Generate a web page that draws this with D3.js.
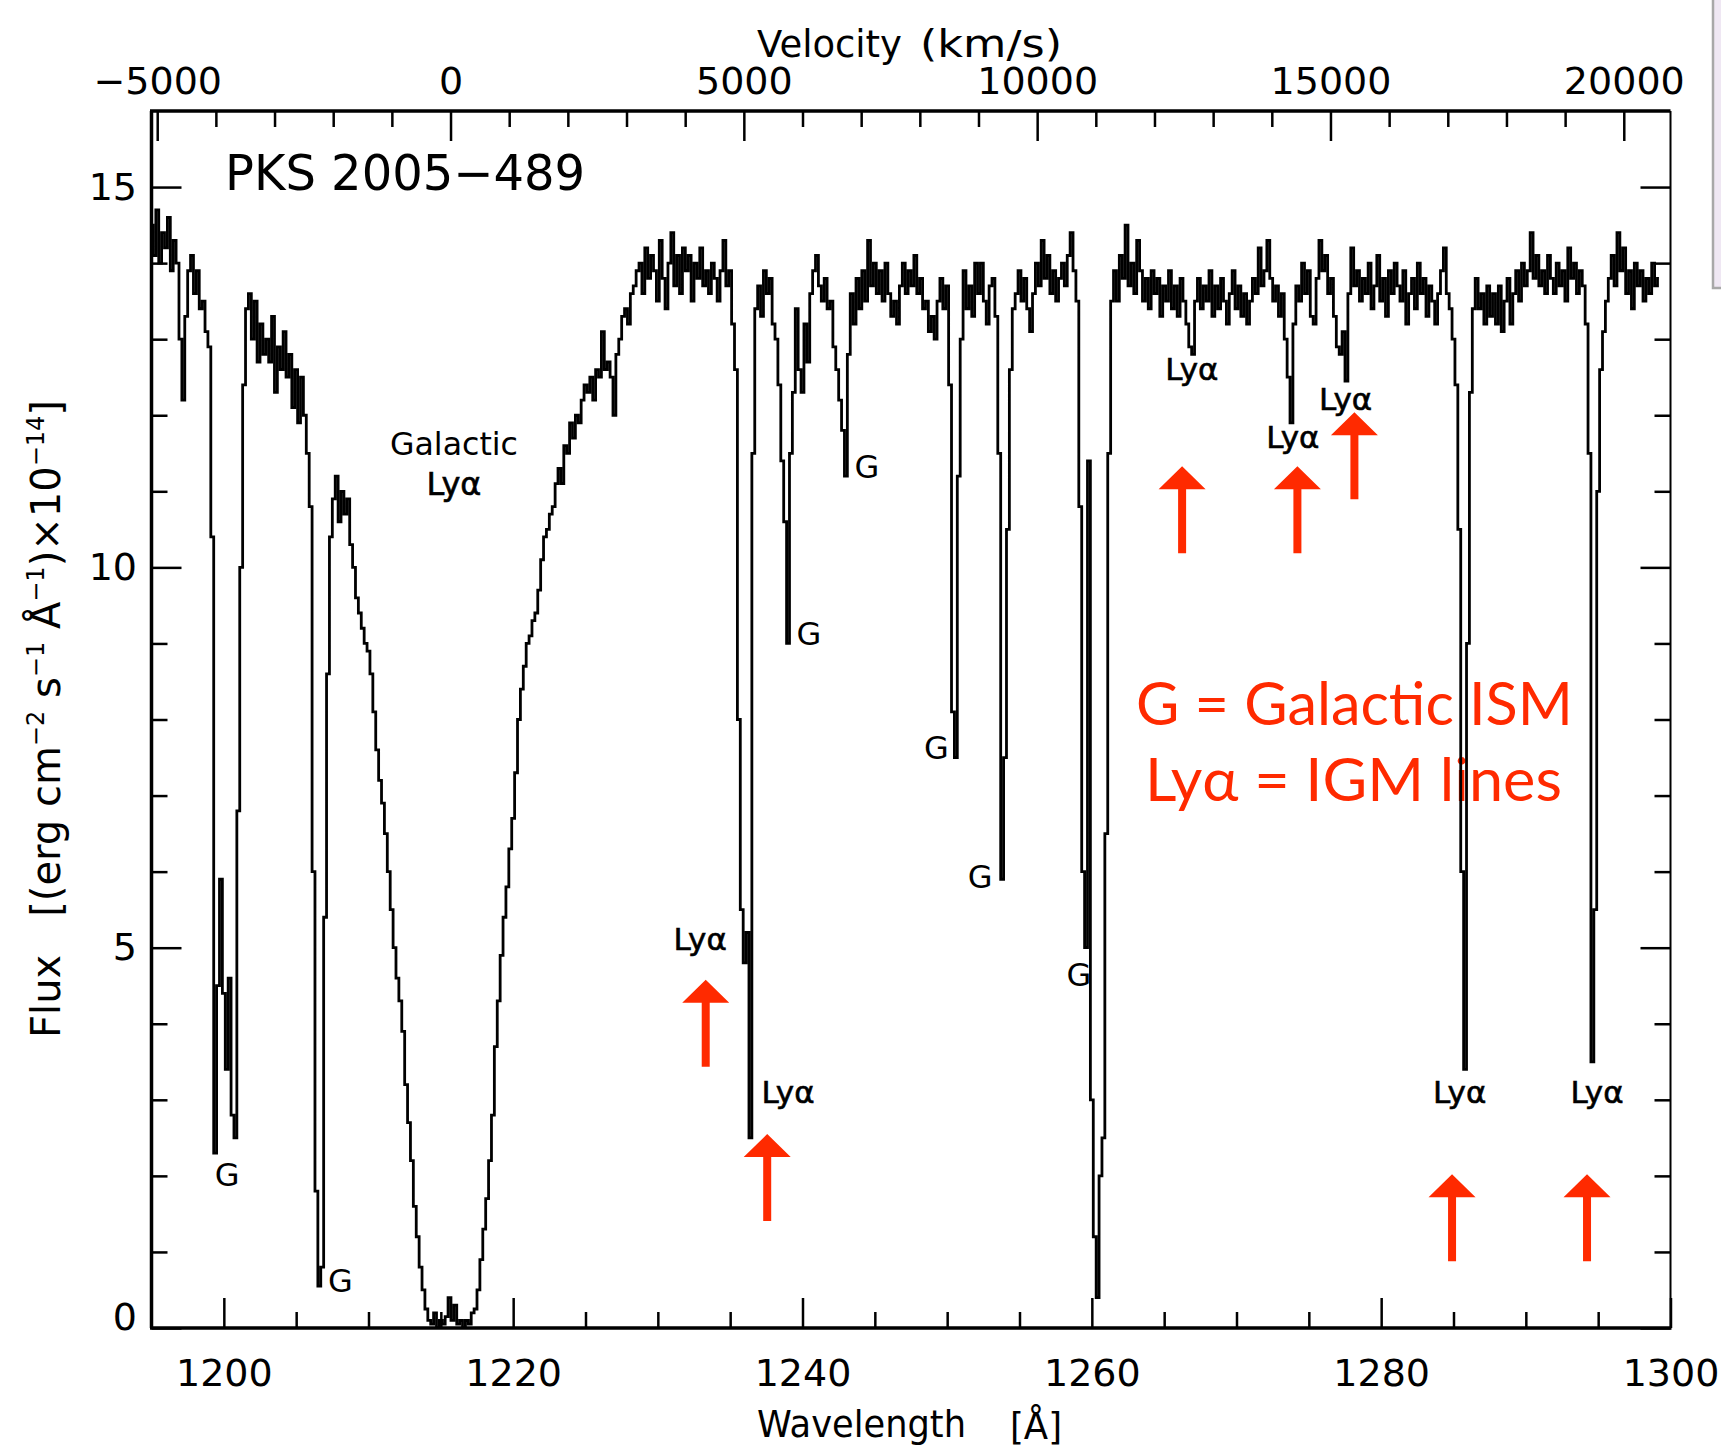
<!DOCTYPE html>
<html>
<head>
<meta charset="utf-8">
<script src="https://cdn.jsdelivr.net/npm/d3@7"></script>
<style>
  body { margin: 0; background: #fff; }
</style>
</head>
<body>
<svg id="chart"></svg>
<script>
// PKS 2005-489 ultraviolet spectrum, flux sampled every 0.2 A from 1195.0 A
const WAVE_START = 1195.0;
const WAVE_STEP = 0.2;
const flux = [
  14.5, 14.1, 14.7, 14.0, 14.4,   // 1195
  14.2, 14.6, 13.9, 14.3, 14.0,   // 1196
  13.0, 12.2, 13.3, 13.9, 14.1,   // 1197
  13.6, 13.9, 13.4, 13.5, 13.1,   // 1198
  12.9, 10.4, 2.3, 4.5, 5.9,      // 1199
  4.4, 3.4, 4.6, 2.8, 2.5,        // 1200
  6.8, 10.0, 12.4, 13.4, 13.6,    // 1201
  13.0, 13.5, 12.7, 13.2, 12.8,   // 1202
  13.0, 12.7, 13.3, 12.3, 12.9,   // 1203
  12.6, 13.1, 12.5, 12.8, 12.1,   // 1204
  12.6, 11.9, 12.5, 12.0, 11.5,   // 1205
  10.8, 6.0, 1.8, 0.55, 0.8,      // 1206
  5.4, 8.6, 10.4, 10.9, 11.2,     // 1207
  10.6, 11.0, 10.7, 10.9, 10.3,   // 1208
  10.0, 9.6, 9.4, 9.2, 9.0,       // 1209
  8.9, 8.6, 8.1, 7.6, 7.2,        // 1210
  6.9, 6.5, 6.0, 5.5, 5.0,        // 1211
  4.6, 4.3, 3.9, 3.2, 2.7,        // 1212
  2.2, 1.6, 1.2, 0.8, 0.5,        // 1213
  0.25, 0.1, 0.05, 0.2, 0.0,      // 1214
  0.1, 0.05, 0.15, 0.4, 0.1,      // 1215
  0.3, 0.05, 0.1, 0.0, 0.1,       // 1216
  0.05, 0.2, 0.25, 0.5, 0.9,      // 1217
  1.3, 1.7, 2.2, 2.8, 3.7,        // 1218
  4.3, 4.9, 5.4, 5.8, 6.3,        // 1219
  6.7, 7.3, 8.0, 8.4, 8.7,        // 1220
  9.0, 9.1, 9.3, 9.4, 9.7,        // 1221
  10.1, 10.4, 10.5, 10.7, 10.8,   // 1222
  11.1, 11.3, 11.1, 11.6, 11.5,   // 1223
  11.9, 11.7, 12.0, 11.9, 12.2,   // 1224
  12.4, 12.3, 12.5, 12.2, 12.6,   // 1225
  12.5, 13.1, 12.6, 12.7, 12.5,   // 1226
  12.0, 12.8, 13.0, 13.3, 13.4,   // 1227
  13.2, 13.6, 13.7, 13.9, 14.0,   // 1228
  13.6, 14.2, 13.8, 14.1, 13.9,   // 1229
  13.5, 14.3, 13.8, 13.4, 14.0,   // 1230
  14.4, 13.7, 14.1, 13.6, 14.2,   // 1231
  13.9, 14.1, 13.5, 14.0, 13.8,   // 1232
  14.2, 13.7, 13.9, 13.6, 14.0,   // 1233
  13.8, 13.5, 13.9, 14.3, 13.7,   // 1234
  13.9, 13.2, 12.6, 8.0, 5.5,     // 1235
  4.8, 5.2, 2.5, 11.5, 13.4,      // 1236
  13.7, 13.3, 13.9, 13.6, 13.8,   // 1237
  13.2, 13.0, 12.4, 11.4, 10.6,   // 1238
  9.0, 11.5, 12.3, 13.4, 12.6,    // 1239
  12.3, 13.2, 12.7, 13.6, 13.9,   // 1240
  14.1, 13.7, 13.5, 13.8, 13.4,   // 1241
  13.5, 12.9, 12.6, 12.2, 11.8,   // 1242
  11.2, 12.8, 13.6, 13.2, 13.8,   // 1243
  13.4, 13.9, 13.5, 14.3, 13.7,   // 1244
  14.0, 13.6, 13.9, 13.5, 14.0,   // 1245
  13.6, 13.3, 13.5, 13.2, 13.7,   // 1246
  14.0, 13.6, 13.9, 13.7, 14.1,   // 1247
  13.6, 13.8, 13.4, 13.5, 13.1,   // 1248
  13.3, 13.0, 13.5, 13.8, 13.4,   // 1249
  13.7, 12.4, 8.1, 7.5, 11.2,     // 1250
  13.0, 13.9, 13.4, 13.7, 13.3,   // 1251
  14.0, 13.6, 14.0, 13.5, 13.2,   // 1252
  13.7, 13.8, 13.3, 11.5, 5.9,    // 1253
  7.5, 10.5, 12.6, 13.4, 13.6,    // 1254
  13.9, 13.5, 13.8, 13.4, 13.1,   // 1255
  13.6, 14.0, 13.7, 14.3, 13.8,   // 1256
  14.1, 13.6, 13.9, 13.5, 13.8,   // 1257
  14.0, 13.7, 14.1, 14.4, 13.9,   // 1258
  13.5, 10.8, 6.0, 5.0, 11.4,     // 1259
  3.0, 1.2, 0.4, 2.0, 2.5,        // 1260
  6.5, 11.5, 13.5, 13.9, 13.5,    // 1261
  14.1, 13.8, 14.5, 13.7, 14.0,   // 1262
  13.6, 14.3, 13.9, 13.5, 13.8,   // 1263
  13.4, 13.9, 13.6, 13.8, 13.3,   // 1264
  13.7, 13.5, 13.9, 13.4, 13.7,   // 1265
  13.3, 13.8, 13.5, 13.2, 12.9,   // 1266
  12.8, 13.5, 13.8, 13.4, 13.7,   // 1267
  13.5, 13.9, 13.3, 13.7, 13.4,   // 1268
  13.8, 13.5, 13.2, 13.6, 13.9,   // 1269
  13.4, 13.7, 13.3, 13.6, 13.2,   // 1270
  13.5, 13.8, 13.6, 14.2, 13.7,   // 1271
  13.9, 14.3, 13.8, 13.5, 13.7,   // 1272
  13.3, 13.6, 13.0, 12.5, 11.9,   // 1273
  13.2, 13.7, 13.5, 14.0, 13.6,   // 1274
  13.9, 13.3, 13.2, 13.8, 14.3,   // 1275
  13.9, 14.1, 13.6, 13.8, 13.3,   // 1276
  12.9, 12.8, 13.1, 12.45, 13.6,  // 1277
  14.2, 13.7, 13.9, 13.5, 13.8,   // 1278
  13.6, 14.0, 13.4, 13.7, 14.1,   // 1279
  13.5, 13.8, 13.3, 13.9, 13.6,   // 1280
  14.0, 13.7, 13.5, 13.9, 13.2,   // 1281
  13.6, 13.8, 13.4, 14.0, 13.6,   // 1282
  13.8, 13.3, 13.7, 13.5, 13.2,   // 1283
  13.6, 13.9, 14.2, 13.6, 13.4,   // 1284
  13.0, 12.4, 10.5, 6.0, 3.4,     // 1285
  9.0, 12.3, 13.4, 13.8, 13.4,    // 1286
  13.6, 13.2, 13.7, 13.3, 13.6,   // 1287
  13.2, 13.7, 13.1, 13.5, 13.8,   // 1288
  13.2, 13.6, 13.9, 13.5, 14.0,   // 1289
  13.7, 13.9, 14.4, 13.8, 14.1,   // 1290
  13.7, 13.9, 13.6, 14.1, 13.8,   // 1291
  13.6, 14.0, 13.7, 13.9, 13.5,   // 1292
  14.2, 13.8, 14.0, 13.6, 13.9,   // 1293
  13.7, 13.2, 11.5, 3.5, 5.5,     // 1294
  11.0, 12.6, 13.1, 13.5, 13.8,   // 1295
  14.1, 13.7, 14.4, 13.9, 14.2,   // 1296
  13.6, 13.9, 13.4, 14.0, 13.7,   // 1297
  13.9, 13.5, 13.8, 13.6, 14.0,   // 1298
  13.7, 13.8                      // 1299
];

// axis ticks
const waveTicks = [1200, 1220, 1240, 1260, 1280, 1300];
const waveMinor = d3.range(1200, 1300, 5).filter(w => w % 20 !== 0);
const fluxTicks = [0, 5, 10, 15];
const fluxMinor = d3.range(1, 16).filter(f => f % 5 !== 0);
const velTicks = [-5000, 0, 5000, 10000, 15000, 20000];
const velMinor = d3.range(-5000, 20001, 1000).filter(v => v % 5000 !== 0);

// absorption line labels (wavelength, flux at label centre)
const galWave = [1200.23, 1208.05, 1240.44, 1244.46, 1249.25, 1252.28, 1259.1];
const galFlux = [2.02, 0.62, 9.13, 11.33, 7.63, 5.94, 4.65];
const igmWave = [1232.93, 1239.0, 1266.92, 1273.9, 1277.54, 1285.43, 1294.92];
const igmFlux = [5.11, 3.10, 12.61, 11.72, 12.22, 3.10, 3.10];

// red arrow tips
const arrowWave = [1233.31, 1237.56, 1266.24, 1274.21, 1278.15, 1284.9, 1294.23];
const arrowFlux = [4.58, 2.55, 11.33, 11.33, 12.04, 2.02, 2.02];

const LYA_REST = 1215.67;
const C_KMS = 299792.458;
const velocity = w => C_KMS * (w - LYA_REST) / LYA_REST;

const W = 1721, H = 1455;
const L = 151.5, R = 1670.5, T = 111, B = 1328;
const FONT = "'DejaVu Sans', 'Liberation Sans', sans-serif";
const RED = "#ff2a00";

const x = d3.scaleLinear().domain([1195, 1300]).range([L, R]);
const y = d3.scaleLinear().domain([0, 16]).range([B, T]);
const xv = d3.scaleLinear().domain([velocity(1195), velocity(1300)]).range([L, R]);

const svg = d3.select("#chart")
  .attr("width", W)
  .attr("height", H)
  .style("display", "block")
  .style("background", "#fff");

// slide edge at the far right
svg.append("rect")
  .attr("x", 1713).attr("y", -4)
  .attr("width", 14).attr("height", 292)
  .attr("fill", "#efe7f3")
  .attr("stroke", "#a8a8a8")
  .attr("stroke-width", 2.5);

svg.append("defs").append("clipPath")
  .attr("id", "plot-clip")
  .append("rect")
  .attr("x", L).attr("y", T)
  .attr("width", R - L).attr("height", B - T);

function drawTicks(axisFn, scale, transform, minor, major, format, pad) {
  const g = svg.append("g").attr("transform", transform);
  g.append("g")
    .call(axisFn(scale).tickValues(minor).tickSize(-16).tickFormat(""));
  const majorG = g.append("g")
    .call(axisFn(scale).tickValues(major).tickSize(-30).tickPadding(pad).tickFormat(format || ""));
  g.selectAll(".domain").remove();
  g.selectAll(".tick line")
    .attr("stroke", "#000")
    .attr("stroke-width", 2.5);
  majorG.selectAll("text")
    .attr("font-family", FONT)
    .attr("font-size", 38)
    .attr("fill", "#000");
  return majorG;
}

drawTicks(d3.axisBottom, x, `translate(0,${B})`, waveMinor, waveTicks, d3.format("d"), 31);
drawTicks(d3.axisTop, xv, `translate(0,${T})`, velMinor, velTicks, d3.format("d"), 17);
const fluxAxis = drawTicks(d3.axisLeft, y, `translate(${L},0)`, fluxMinor, fluxTicks, d3.format("d"), 14.5);
drawTicks(d3.axisRight, y, `translate(${R},0)`, fluxMinor, fluxTicks, null, 0);

// the zero label sits a little above the bottom axis
fluxAxis.selectAll(".tick text")
  .filter(d => d === 0)
  .attr("y", -11);

// frame
const frame = svg.append("g").attr("stroke", "#000").attr("fill", "none");
frame.append("path").attr("d", `M${L - 1.5},${T}H${R}`).attr("stroke-width", 3.5);
frame.append("path").attr("d", `M${L},${T}V${B}`).attr("stroke-width", 3.5);
frame.append("path").attr("d", `M${L - 1.5},${B}H${R + 1}`).attr("stroke-width", 3.5);
frame.append("path").attr("d", `M${R},${T}V${B}`).attr("stroke-width", 2);

// axis titles
function title(txt, px, py, len, size) {
  return svg.append("text")
    .attr("x", px).attr("y", py)
    .attr("font-family", FONT)
    .attr("font-size", size)
    .attr("textLength", len)
    .attr("lengthAdjust", "spacingAndGlyphs")
    .text(txt);
}
title("Velocity", 757, 57, 145, 37);
title("(km/s)", 920, 57, 142, 37);
title("Wavelength", 757, 1437, 209, 38);
title("[Å]", 1010, 1439, 52, 38);
title("PKS 2005\u2212489", 225, 190, 360, 49);

const yTitle = svg.append("text")
  .attr("transform", "translate(60,719) rotate(-90)")
  .attr("text-anchor", "middle")
  .attr("font-family", FONT)
  .attr("font-size", 40);
[
  ["Flux", 0, 0],
  ["[(erg cm", 38, 0],
  ["\u22122", 0, -16, true],
  [" s", 0, 16],
  ["\u22121", 0, -16, true],
  [" Å", 0, 16],
  ["\u22121", 0, -16, true],
  [")×10", 0, 16],
  ["\u221214", 0, -16, true],
  ["]", 0, 16]
].forEach(([t, dx, dy, sup]) => {
  yTitle.append("tspan")
    .attr("dx", dx)
    .attr("dy", dy)
    .attr("font-size", sup ? 24 : 40)
    .text(t);
});

// legend notes
const notes = ["G = Galactic ISM", "Lyα = IGM lines"];
const noteWave = [1263.05, 1263.67];
const noteFlux = [7.93, 6.93];
const noteLen = [437, 417];
svg.append("g").selectAll("text")
  .data(notes)
  .join("text")
  .attr("x", (d, i) => x(noteWave[i]))
  .attr("y", (d, i) => y(noteFlux[i]))
  .attr("textLength", (d, i) => noteLen[i])
  .attr("lengthAdjust", "spacingAndGlyphs")
  .attr("font-family", "Lato, 'Open Sans', sans-serif")
  .attr("font-size", 60)
  .attr("fill", RED)
  .text(d => d);

// spectrum
const spectrum = flux.map((f, i) => ({ w: WAVE_START + i * WAVE_STEP, f }));
const line = d3.line()
  .x(d => x(d.w))
  .y(d => y(d.f))
  .curve(d3.curveStep);

svg.append("path")
  .datum(spectrum)
  .attr("clip-path", "url(#plot-clip)")
  .attr("fill", "none")
  .attr("stroke", "#000")
  .attr("stroke-width", 2.8)
  .attr("stroke-linejoin", "miter")
  .attr("d", line);

// line identifications
const labels = svg.append("g")
  .attr("font-family", FONT)
  .attr("text-anchor", "middle")
  .attr("fill", "#000");

labels.selectAll("text.gal")
  .data(galWave)
  .join("text")
  .attr("class", "gal")
  .attr("x", d => x(d))
  .attr("y", (d, i) => y(galFlux[i]))
  .attr("dy", "0.36em")
  .attr("font-size", 32)
  .text("G");

labels.selectAll("text.igm")
  .data(igmWave)
  .join("text")
  .attr("class", "igm")
  .attr("x", d => x(d))
  .attr("y", (d, i) => y(igmFlux[i]))
  .attr("dy", "0.36em")
  .attr("font-size", 31)
  .attr("stroke", "#000")
  .attr("stroke-width", 0.6)
  .text("Lyα");

labels.append("text")
  .attr("x", x(1215.91)).attr("y", y(11.63))
  .attr("dy", "0.36em")
  .attr("font-size", 32)
  .attr("textLength", 128)
  .attr("lengthAdjust", "spacingAndGlyphs")
  .text("Galactic");
labels.append("text")
  .attr("x", x(1215.91)).attr("y", y(11.1))
  .attr("dy", "0.36em")
  .attr("font-size", 32)
  .attr("stroke", "#000")
  .attr("stroke-width", 0.6)
  .text("Lyα");

// arrows pointing at the intergalactic absorbers
function arrowPath(cx, ty) {
  const hw = 23.5, hh = 23, sw = 4, len = 87;
  return `M${cx},${ty}L${cx + hw},${ty + hh}L${cx + sw},${ty + hh}` +
    `L${cx + sw},${ty + len}L${cx - sw},${ty + len}L${cx - sw},${ty + hh}L${cx - hw},${ty + hh}Z`;
}

svg.append("g").selectAll("path")
  .data(arrowWave)
  .join("path")
  .attr("fill", RED)
  .attr("d", (d, i) => arrowPath(x(d), y(arrowFlux[i])));
</script>
</body>
</html>
